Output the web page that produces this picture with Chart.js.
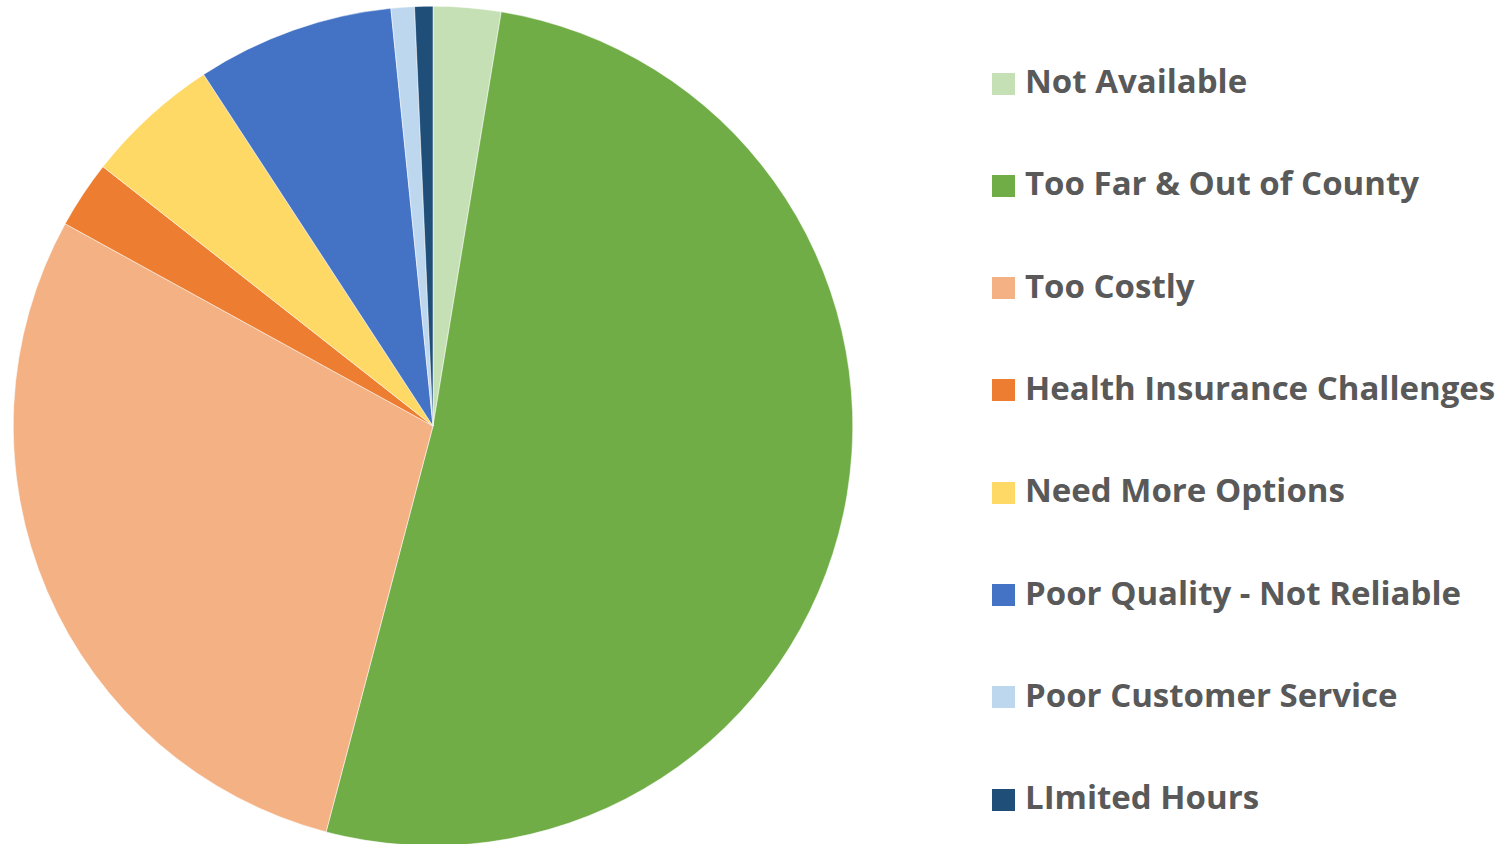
<!DOCTYPE html>
<html>
<head>
<meta charset="utf-8">
<script src="https://cdn.jsdelivr.net/npm/chart.js@4.4.1/dist/chart.umd.min.js"></script>
<style>
  html, body { margin: 0; padding: 0; background: #fff; overflow: hidden; }
  body { width: 1507px; height: 844px; position: relative; }
  #wrap { position: absolute; left: 13px; top: 6px; width: 840px; height: 840px; }
  #legend { position: absolute; left: 992px; top: 0; }
  .item { position: absolute; left: 0; white-space: nowrap; height: 40px; display: flex; align-items: center;
          font-family: "Open Sans", Lato, sans-serif; font-weight: bold; font-size: 33px; color: #595959; }
  .box { width: 23px; height: 22px; margin-right: 10px; flex: none; position: relative; top: 3px; }
</style>
</head>
<body>
<div id="wrap"><canvas id="pie"></canvas></div>
<div id="legend"></div>
<script>
// categorías y porcentajes
const categorias = [
  "Not Available",
  "Too Far & Out of County",
  "Too Costly",
  "Health Insurance Challenges",
  "Need More Options",
  "Poor Quality - Not Reliable",
  "Poor Customer Service",
  "LImited Hours"
];
const valores = [2.6, 51.5, 28.9, 2.6, 5.2, 7.6, 0.9, 0.7];
const colores = ["#C5E0B4", "#70AD47", "#F4B183", "#ED7D31", "#FFD966", "#4472C4", "#BDD7EE", "#1F4E79"];

// leyenda
const legend = document.getElementById("legend");
categorias.forEach((cat, i) => {
  const row = document.createElement("div");
  row.className = "item";
  row.style.top = (80.5 + i * 102.3 - 20) + "px";
  row.innerHTML = `<span class="box" style="background:${colores[i]}"></span><span>${cat}</span>`;
  legend.appendChild(row);
});

new Chart(document.getElementById("pie"), {
  type: "pie",
  data: {
    labels: categorias,
    datasets: [{
      data: valores,
      backgroundColor: colores,
      borderColor: "#ffffff",
      borderWidth: 0.5
    }]
  },
  options: {
    responsive: true,
    maintainAspectRatio: false,
    animation: false,
    layout: { padding: 0 },
    plugins: { legend: { display: false }, tooltip: { enabled: false } }
  }
});
</script>
</body>
</html>
